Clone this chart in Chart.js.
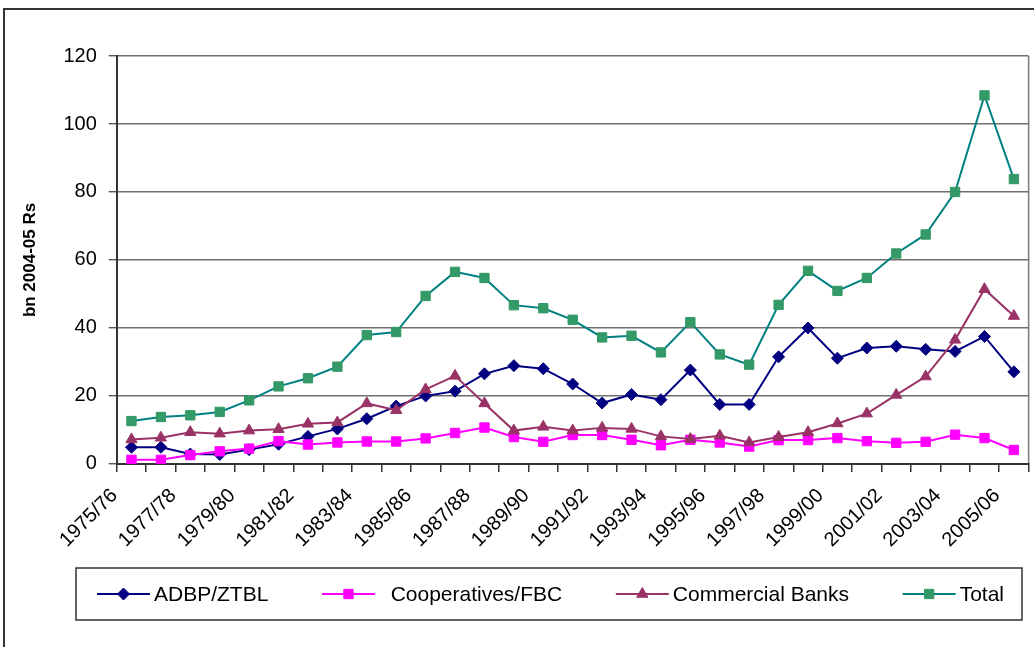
<!DOCTYPE html>
<html>
<head>
<meta charset="utf-8">
<script src="https://cdn.jsdelivr.net/npm/chart.js@4.4.0/dist/chart.umd.min.js"></script>
<style>
  html, body { margin: 0; padding: 0; background: #fff; overflow: hidden; }
  /* the frame runs on past the right edge of the window */
  #wrap { position: relative; width: 1043px; height: 647px; }
</style>
</head>
<body>
<div id="wrap"><canvas id="creditChart"></canvas></div>
<script>
// Agricultural credit disbursed by institution, bn 2004-05 Rs
const years = [
  '1975/76', '1976/77', '1977/78', '1978/79', '1979/80', '1980/81', '1981/82', '1982/83',
  '1983/84', '1984/85', '1985/86', '1986/87', '1987/88', '1988/89', '1989/90', '1990/91',
  '1991/92', '1992/93', '1993/94', '1994/95', '1995/96', '1996/97', '1997/98', '1998/99',
  '1999/00', '2000/01', '2001/02', '2002/03', '2003/04', '2004/05', '2005/06'
];
const adbp = [
  4.9, 4.9, 2.9, 2.8, 4.2, 5.8, 8.1, 10.3, 13.3, 17.0, 20.0, 21.4, 26.5, 28.9, 28.0, 23.5,
  17.9, 20.4, 18.9, 27.6, 17.5, 17.5, 31.5, 40.0, 31.1, 34.1, 34.6, 33.7, 33.1, 37.5, 27.1
];
const coops = [
  1.2, 1.2, 2.6, 3.7, 4.5, 6.7, 5.7, 6.3, 6.6, 6.6, 7.5, 9.1, 10.7, 7.9, 6.5, 8.5,
  8.5, 7.1, 5.5, 7.1, 6.3, 5.1, 7.0, 7.0, 7.6, 6.7, 6.2, 6.5, 8.6, 7.6, 4.1
];
const commercial = [
  7.2, 7.7, 9.3, 8.9, 9.8, 10.2, 11.8, 12.2, 17.8, 15.8, 21.9, 25.9, 17.8, 9.8, 10.9, 9.8,
  10.6, 10.3, 8.1, 7.3, 8.3, 6.3, 7.9, 9.3, 11.9, 14.8, 20.3, 25.7, 36.5, 51.4, 43.5
];
const total = [
  12.6, 13.8, 14.3, 15.3, 18.7, 22.8, 25.2, 28.6, 37.9, 38.8, 49.4, 56.5, 54.7, 46.7, 45.8, 42.4,
  37.2, 37.7, 32.8, 41.7, 32.2, 29.2, 46.8, 56.8, 50.9, 54.7, 61.9, 67.5, 80.0, 108.4, 83.8
];

const FONT = '"Liberation Sans", Arial, sans-serif';

// outer frame and the plot area's right edge
const framePlugin = {
  id: 'frame',
  beforeDraw(chart) {
    const ctx = chart.ctx;
    const a = chart.chartArea;
    ctx.save();
    ctx.strokeStyle = '#333';
    ctx.lineWidth = 2;
    ctx.beginPath();
    ctx.moveTo(4, chart.height);
    ctx.lineTo(4, 9);
    ctx.lineTo(chart.width, 9);
    ctx.stroke();
    ctx.strokeStyle = '#7a7a7a';
    ctx.lineWidth = 1.5;
    ctx.beginPath();
    ctx.moveTo(a.right, a.top);
    ctx.lineTo(a.right, a.bottom);
    ctx.stroke();
    ctx.restore();
  }
};

// boxed legend with a line sample and marker for each series
const legendBox = {
  id: 'legendBox',
  afterDraw(chart) {
    const ctx = chart.ctx;
    const box = { left: 76, top: 568, right: 1022, bottom: 620 };
    const sampleW = 53, textGap = 4, padL = 21, padR = 18;
    ctx.save();
    ctx.strokeStyle = '#333';
    ctx.lineWidth = 1.5;
    ctx.strokeRect(box.left, box.top, box.right - box.left, box.bottom - box.top);
    ctx.font = '21px ' + FONT;
    const items = chart.data.datasets.map(ds => ({
      ds, w: sampleW + textGap + ctx.measureText(ds.label).width
    }));
    const used = items.reduce((s, it) => s + it.w, 0);
    const gap = (box.right - box.left - padL - padR - used) / (items.length - 1);
    const cy = (box.top + box.bottom) / 2;
    let x = box.left + padL;
    items.forEach(it => {
      const ds = it.ds;
      ctx.strokeStyle = ds.borderColor;
      ctx.lineWidth = 2;
      ctx.beginPath();
      ctx.moveTo(x, cy);
      ctx.lineTo(x + sampleW, cy);
      ctx.stroke();
      ctx.fillStyle = ds.pointBackgroundColor;
      ctx.strokeStyle = ds.pointBorderColor;
      ctx.lineWidth = 1;
      Chart.helpers.drawPoint(ctx, {
        pointStyle: ds.pointStyle, rotation: 0, radius: ds.pointRadius, borderWidth: 1
      }, x + sampleW / 2, cy);
      ctx.fillStyle = '#000';
      ctx.textBaseline = 'middle';
      ctx.textAlign = 'left';
      ctx.fillText(ds.label, x + sampleW + textGap, cy + 1);
      x += it.w + gap;
    });
    ctx.restore();
  }
};

function series(label, data, line, marker, style, radius, order) {
  return {
    label, data, order,
    borderColor: line,
    backgroundColor: marker,
    pointBackgroundColor: marker,
    pointBorderColor: marker,
    pointStyle: style,
    pointRadius: radius,
    pointHoverRadius: radius,
    pointBorderWidth: 1,
    borderWidth: 2,
    tension: 0
  };
}

new Chart(document.getElementById('creditChart'), {
  type: 'line',
  data: {
    labels: years,
    datasets: [
      series('ADBP/ZTBL', adbp, '#000080', '#000080', 'rectRot', 6, 4),
      series('  Cooperatives/FBC', coops, '#FF00FF', '#FF00FF', 'rect', 6.6, 3),
      series('Commercial Banks', commercial, '#993366', '#993366', 'triangle', 6.5, 2),
      series('Total', total, '#008080', '#339966', 'rect', 6.6, 1)
    ]
  },
  options: {
    responsive: true,
    maintainAspectRatio: false,
    animation: false,
    layout: { padding: { top: 56, right: 6, bottom: 83, left: 0 } },
    plugins: {
      legend: { display: false },
      tooltip: { enabled: false }
    },
    scales: {
      x: {
        type: 'category',
        offset: true,
        grid: {
          offset: true,
          drawOnChartArea: false,
          drawTicks: true,
          tickLength: 8,
          color: '#333',
          lineWidth: 1.5
        },
        border: { color: '#333', width: 2 },
        ticks: {
          autoSkip: false,
          minRotation: 45,
          maxRotation: 45,
          padding: 12,
          labelOffset: -17,
          color: '#000',
          font: { family: FONT, size: 20 },
          callback: function (value, index) {
            return index % 2 === 0 ? this.getLabelForValue(value) : '';
          }
        }
      },
      y: {
        min: 0,
        max: 120,
        grid: {
          color: '#6f6f6f',
          lineWidth: 1.4,
          tickLength: 8,
          tickColor: '#555'
        },
        border: { color: '#333', width: 2 },
        ticks: {
          stepSize: 20,
          padding: 12,
          color: '#000',
          font: { family: FONT, size: 20 }
        },
        title: {
          display: true,
          text: 'bn 2004-05 Rs',
          color: '#000',
          font: { family: FONT, size: 17, weight: 'bold' },
          padding: { top: 20, bottom: 11 }
        }
      }
    }
  },
  plugins: [framePlugin, legendBox]
});
</script>
</body>
</html>
